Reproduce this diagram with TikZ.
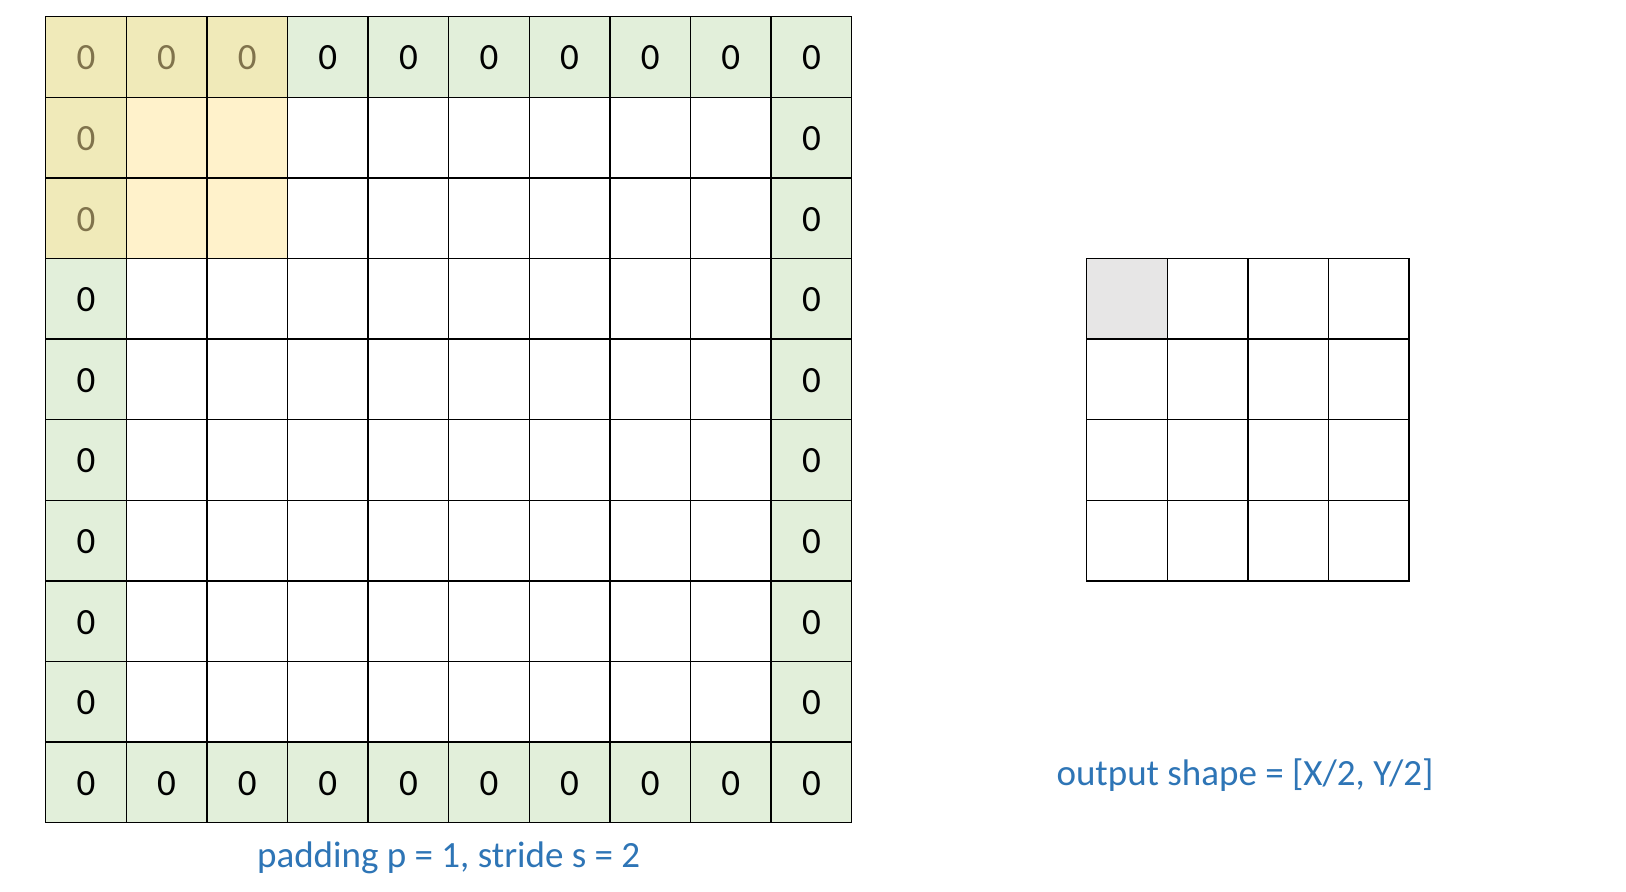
\documentclass[tikz,border=0pt]{standalone}
\usepackage{fontspec}
\setmainfont{Carlito}
\usepackage{xcolor}
\usetikzlibrary{backgrounds}
\usetikzlibrary{calc}
\usetikzlibrary{positioning}
\definecolor{padgreen}{HTML}{E2EFDA}
\definecolor{kernelyellow}{HTML}{FFE699}
\definecolor{outgray}{HTML}{E7E6E6}
\definecolor{labelblue}{HTML}{2E75B6}
\tikzset{
  zero/.style={font=\fontsize{37}{44}\selectfont, text=black, anchor=base},
  caption/.style={font=\fontsize{37}{44}\selectfont, text=labelblue, anchor=base},
  cellline/.style={black, line width=1.5pt}
}

\begin{document}
\begin{tikzpicture}[x=80.6pt, y=80.6pt]
      
      \useasboundingbox[fill=white] (-0.567, 0.207) rectangle (19.607, -10.860);
      
      \foreach \i in {0, ..., 9}{
        \fill[padgreen] (\i, 0) rectangle (\i + 1, -1);
        \fill[padgreen] (\i, -9) rectangle (\i + 1, -10);
        \node[zero] (top-\i) at (\i + 0.5, -0.66) {0};
        \node[zero] (bot-\i) at (\i + 0.5, -9.66) {0};
      }
      
      \foreach \j in {1, ..., 8}{
        \fill[padgreen] (0, -\j) rectangle (1, -\j - 1);
        \fill[padgreen] (9, -\j) rectangle (10, -\j - 1);
        \node[zero] (left-\j) at (0.5, -\j - 0.66) {0};
        \node[zero] (right-\j) at (9.5, -\j - 0.66) {0};
      }
      
      \fill[kernelyellow, fill opacity=0.5] (0, 0) rectangle (3, -3);
      
      \foreach \i in {0, ..., 9}{
        \foreach \j in {0, ..., 9}{
          \draw[cellline] (\i, -\j) rectangle (\i + 1, -\j - 1);
        }
      }
      
      \fill[outgray] (12.916, -3) rectangle (13.916, -4);
      \foreach \i in {0, ..., 3}{
        \foreach \j in {0, ..., 3}{
          \draw[cellline] (12.916 + \i, -3 - \j) rectangle (13.916 + \i, -4 - \j);
        }
      }
      
      \node[caption] (padlabel) at (5, -10.55) {padding p = 1, stride s = 2};
      \node[caption] (outlabel) at (14.88, -9.54) {output shape = [X/2, Y/2]};
      
    \end{tikzpicture}
\end{document}
